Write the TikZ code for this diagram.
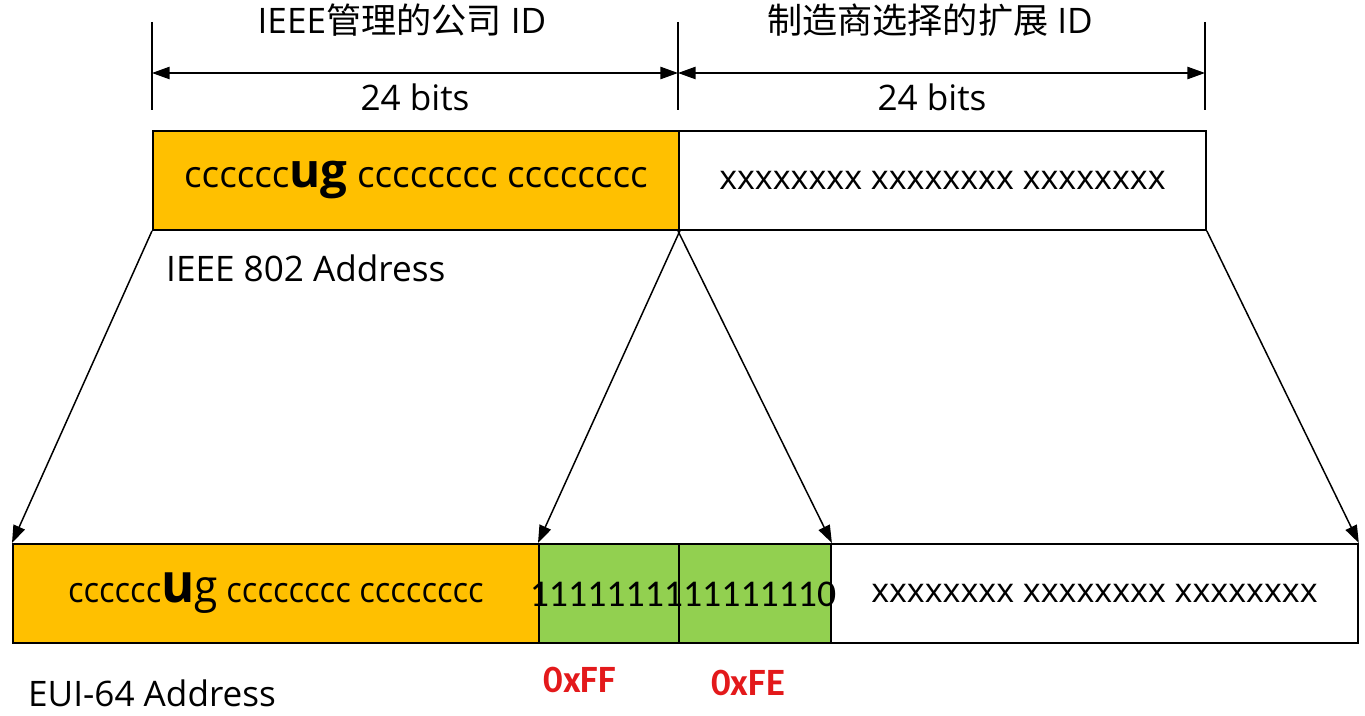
\documentclass[tikz,border=0pt]{standalone}
\usepackage{fontspec}
\setmainfont{Open Sans}
\newfontfamily\cjk{Noto Sans CJK SC}
\newfontfamily\digits{Carlito}
\usetikzlibrary{arrows.meta, positioning}
\definecolor{ouiorange}{HTML}{FFC000}
\definecolor{fillgreen}{HTML}{92D050}
\definecolor{hexred}{HTML}{E3191B}
\newcommand{\lbl}{\fontsize{20}{24}\selectfont}

\begin{document}
\begin{tikzpicture}[x=0.02cm, y=-0.02cm, >={Triangle[length=10pt,width=7pt]},
    field/.style={rectangle, draw, line width=1.1pt, anchor=north west,
                  minimum height=1.98cm, inner sep=0pt, font=\lbl},
    tick/.style={line width=0.8pt},
    dimline/.style={<->, line width=0.8pt},
    maparrow/.style={->, line width=0.85pt},
    hexlabel/.style={text=hexred, font=\digits\bfseries\fontsize{22}{26}\selectfont}]

    \useasboundingbox (0,0) rectangle (1365,716);

    % Dimension marks on top
    \coordinate (d0) at (152,73);
    \coordinate (d1) at (678,73);
    \coordinate (d2) at (1205,73);
    \draw[tick] (152,22) -- (152,110);
    \draw[tick] (678,22) -- (678,110);
    \draw[tick] (1205,22) -- (1205,110);
    \draw[dimline] (d0) -- (d1);
    \draw[dimline] (d1) -- (d2);
    \node[font=\lbl] (ouititle) at (402,20) {IEEE{\cjk 管理的公司} ID};
    \node[font=\lbl] (exttitle) at (930,20) {{\cjk 制造商选择的扩展} ID};
    \node[font=\lbl] (ouibits) at (415,97) {24 bits};
    \node[font=\lbl] (extbits) at (932,97) {24 bits};

    % IEEE 802 address
    \node[field, fill=ouiorange, minimum width=10.52cm] (oui) at (152,130)
        {\fontsize{21}{24}\selectfont cccccc{\fontsize{27}{27}\selectfont\bfseries ug} cccccccc cccccccc};
    \node[field, fill=white, minimum width=10.54cm] (ext) at (678,130)
        {\fontsize{19.4}{24}\selectfont xxxxxxxx xxxxxxxx xxxxxxxx};
    \node[font=\lbl, anchor=west] (macname) at (160,268) {IEEE 802 Address};

    % EUI-64 address
    \node[field, fill=ouiorange, minimum width=10.52cm] (eoui) at (12,543)
        {\scalebox{0.93}[1]{cccccc{\fontsize{31}{31}\selectfont\bfseries u}{\fontsize{26}{26}\selectfont g} cccccccc cccccccc}};
    \node[field, fill=fillgreen, minimum width=2.8cm] (ff) at (538,543) {};
    \node[field, fill=fillgreen, minimum width=3.04cm] (fe) at (678,543) {};
    \node[field, fill=white, minimum width=10.54cm] (eext) at (830,543)
        {\fontsize{19.4}{24}\selectfont xxxxxxxx xxxxxxxx xxxxxxxx};
    \node[font=\digits\fontsize{21.5}{26}\selectfont] (ones) at (683,594) {1111111111111110};
    \node[font=\lbl, anchor=west] (euiname) at (22,693) {EUI-64 Address};
    \node[hexlabel] (ffhex) at (580,680) {0xFF};
    \node[hexlabel] (fehex) at (748,683) {0xFE};

    % Mapping arrows
    \draw[maparrow] (oui.south west) -- (eoui.north west);
    \draw[maparrow] (oui.south east) -- (ff.north west);
    \draw[maparrow] (ext.south west) -- (fe.north east);
    \draw[maparrow] (ext.south east) -- (eext.north east);

\end{tikzpicture}
\end{document}
